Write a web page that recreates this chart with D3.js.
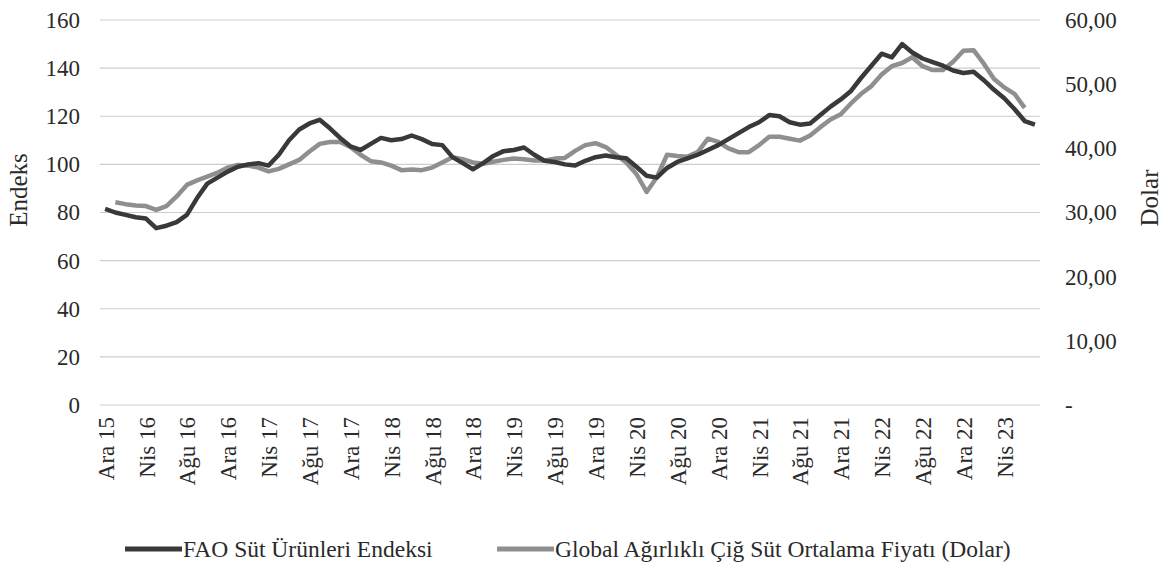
<!DOCTYPE html>
<html>
<head>
<meta charset="utf-8">
<script src="https://cdn.jsdelivr.net/npm/d3@7"></script>
<style>
  body { margin: 0; background: #fff; }
  svg { display: block; }
  svg text { font-family: "Liberation Serif", "Times New Roman", serif; }
</style>
</head>
<body>
<div id="chart"></div>
<script>

// Months Dec 2015 .. Jul 2023 (Turkish short names)
var monthNames = ["Oca", "Şub", "Mar", "Nis", "May", "Haz", "Tem", "Ağu", "Eyl", "Eki", "Kas", "Ara"];
var categories = ["Ara 15"];
for (var yr = 16; yr <= 23; yr++) {
  for (var m = 0; m < 12; m++) {
    if (yr === 23 && m > 6) break;
    categories.push(monthNames[m] + " " + yr);
  }
}

// tick labels every four months
var tickLabels = ["Ara 15", "Nis 16", "Ağu 16", "Ara 16", "Nis 17", "Ağu 17", "Ara 17",
  "Nis 18", "Ağu 18", "Ara 18", "Nis 19", "Ağu 19", "Ara 19", "Nis 20", "Ağu 20",
  "Ara 20", "Nis 21", "Ağu 21", "Ara 21", "Nis 22", "Ağu 22", "Ara 22", "Nis 23"];

// FAO dairy price index (left axis)
var faoIndex = [81.5, 80, 79, 78, 77.5, 73.5, 74.5, 76, 79, 86, 92, 94.5,
  97, 99, 100, 100.5, 99.5, 104, 110, 114.5, 117, 118.5, 115, 111,
  107.5, 106, 108.5, 111, 110, 110.5, 112, 110.5, 108.5, 108, 103, 100.5,
  98, 100.5, 103.5, 105.5, 106, 107, 104, 101.5, 101, 100, 99.5, 101.5,
  103, 103.7, 103, 102.5, 99, 95.3, 94.5, 98.5, 101, 102.5, 104, 106,
  108, 110.5, 113, 115.5, 117.5, 120.5, 120, 117.5, 116.5, 117, 120.5, 124,
  127, 130.5, 136, 141, 146, 144.5, 150, 146.5, 144, 142.5, 141, 139,
  138, 138.5, 135, 131, 127.5, 123, 118, 116.5];

// Global weighted raw milk average price, USD (right axis)
var milkPrice = [null, 31.6, 31.3, 31.1, 31, 30.4, 31, 32.5, 34.3, 35, 35.6, 36.2,
  37, 37.4, 37.3, 37, 36.4, 36.8, 37.5, 38.2, 39.5, 40.7, 41, 41,
  40.2, 39, 38, 37.8, 37.3, 36.6, 36.7, 36.6, 37, 37.8, 38.6, 38.3,
  37.8, 37.6, 37.9, 38.2, 38.4, 38.3, 38.1, 38.1, 38.4, 38.5, 39.6, 40.5,
  40.8, 40.2, 39, 37.8, 36, 33.2, 35.5, 39, 38.8, 38.7, 39.4, 41.5,
  41, 40, 39.4, 39.4, 40.5, 41.8, 41.8, 41.5, 41.2, 42, 43.3, 44.5,
  45.3, 47, 48.5, 49.7, 51.5, 52.8, 53.3, 54.2, 52.8, 52.2, 52.2, 53.5,
  55.2, 55.3, 53.2, 50.8, 49.5, 48.5, 46.3, null];

var leftTicks = [0, 20, 40, 60, 80, 100, 120, 140, 160];
var rightTicks = [0, 10, 20, 30, 40, 50, 60];

var seriesNames = ["FAO Süt Ürünleri Endeksi", "Global Ağırlıklı Çiğ Süt Ortalama Fiyatı (Dolar)"];

var svgWidth = 1172;
var svgHeight = 565;

// plot area edges (px)
var plotLeft = 100, plotRight = 1040, plotTop = 20, plotBottom = 405;

var darkColor = "#393939";
var grayColor = "#8f8f8f";
var textColor = "#2a2a2a";

var svg = d3.select("#chart")
  .append("svg")
  .attr("width", svgWidth)
  .attr("height", svgHeight);

// Scales
var xScale = d3.scalePoint()
  .domain(categories)
  .range([plotLeft, plotRight])
  .padding(0.5);

var yLeft = d3.scaleLinear()
  .domain([0, 160])
  .range([plotBottom, plotTop]);

var yRight = d3.scaleLinear()
  .domain([0, 60])
  .range([plotBottom, plotTop]);

// Gridlines
svg.append("g")
  .selectAll("line")
  .data(leftTicks)
  .enter()
  .append("line")
  .attr("x1", plotLeft)
  .attr("x2", plotRight)
  .attr("y1", d => yLeft(d))
  .attr("y2", d => yLeft(d))
  .attr("stroke", "#cdcdcd")
  .attr("stroke-width", 1.2);

// Left axis
var leftAxis = d3.axisLeft(yLeft).tickValues(leftTicks).tickSize(0).tickPadding(0);
var leftG = svg.append("g")
  .attr("transform", `translate(80, 0)`)
  .call(leftAxis)
  .attr("font-family", null);
leftG.select(".domain").remove();
leftG.selectAll("text")
  .style("font-size", "23px")
  .attr("fill", textColor);

// Right axis
var rightAxis = d3.axisRight(yRight)
  .tickValues(rightTicks)
  .tickSize(0)
  .tickPadding(0)
  .tickFormat(d => d === 0 ? "-" : d.toFixed(2).replace(".", ","));
var rightG = svg.append("g")
  .attr("transform", `translate(1065, 0)`)
  .call(rightAxis)
  .attr("font-family", null);
rightG.select(".domain").remove();
rightG.selectAll("text")
  .style("font-size", "23px")
  .attr("fill", textColor);

// Bottom axis (rotated labels)
var bottomAxis = d3.axisBottom(xScale).tickValues(tickLabels).tickSize(0).tickPadding(0);
var bottomG = svg.append("g")
  .attr("transform", `translate(0, ${plotBottom})`)
  .call(bottomAxis)
  .attr("font-family", null);
bottomG.select(".domain").remove();
bottomG.selectAll("text")
  .style("font-size", "23px")
  .attr("fill", textColor)
  .attr("text-anchor", "end")
  .attr("transform", "rotate(-90)")
  .attr("x", -12)
  .attr("y", 0)
  .attr("dy", "0.35em");

// Axis titles
svg.append("text")
  .attr("transform", "translate(27, 190) rotate(-90)")
  .attr("text-anchor", "middle")
  .style("font-size", "25px")
  .attr("fill", textColor)
  .text("Endeks");

svg.append("text")
  .attr("transform", "translate(1158, 198) rotate(-90)")
  .attr("text-anchor", "middle")
  .style("font-size", "25px")
  .attr("fill", textColor)
  .text("Dolar");

// Lines
var faoLine = d3.line()
  .x((d, i) => xScale(categories[i]))
  .y(d => yLeft(d));

var milkLine = d3.line()
  .defined(d => d !== null)
  .x((d, i) => xScale(categories[i]))
  .y(d => yRight(d));

svg.append("path")
  .datum(milkPrice)
  .attr("d", milkLine)
  .attr("fill", "none")
  .attr("stroke", grayColor)
  .attr("stroke-width", 4.5)
  .attr("stroke-linejoin", "round");

svg.append("path")
  .datum(faoIndex)
  .attr("d", faoLine)
  .attr("fill", "none")
  .attr("stroke", darkColor)
  .attr("stroke-width", 4.5)
  .attr("stroke-linejoin", "round");

// Legend
var legendItems = [
  { name: seriesNames[0], color: darkColor, x: 125 },
  { name: seriesNames[1], color: grayColor, x: 497 }
];

var legend = svg.append("g").attr("transform", "translate(0, 549)");

legend.selectAll("line")
  .data(legendItems)
  .enter()
  .append("line")
  .attr("x1", d => d.x)
  .attr("x2", d => d.x + 57)
  .attr("y1", 0)
  .attr("y2", 0)
  .attr("stroke", d => d.color)
  .attr("stroke-width", 5);

legend.selectAll("text")
  .data(legendItems)
  .enter()
  .append("text")
  .attr("x", d => d.x + 58)
  .attr("y", 0)
  .attr("dy", "0.35em")
  .style("font-size", "23.5px")
  .attr("fill", textColor)
  .text(d => d.name);

</script>
</body>
</html>
